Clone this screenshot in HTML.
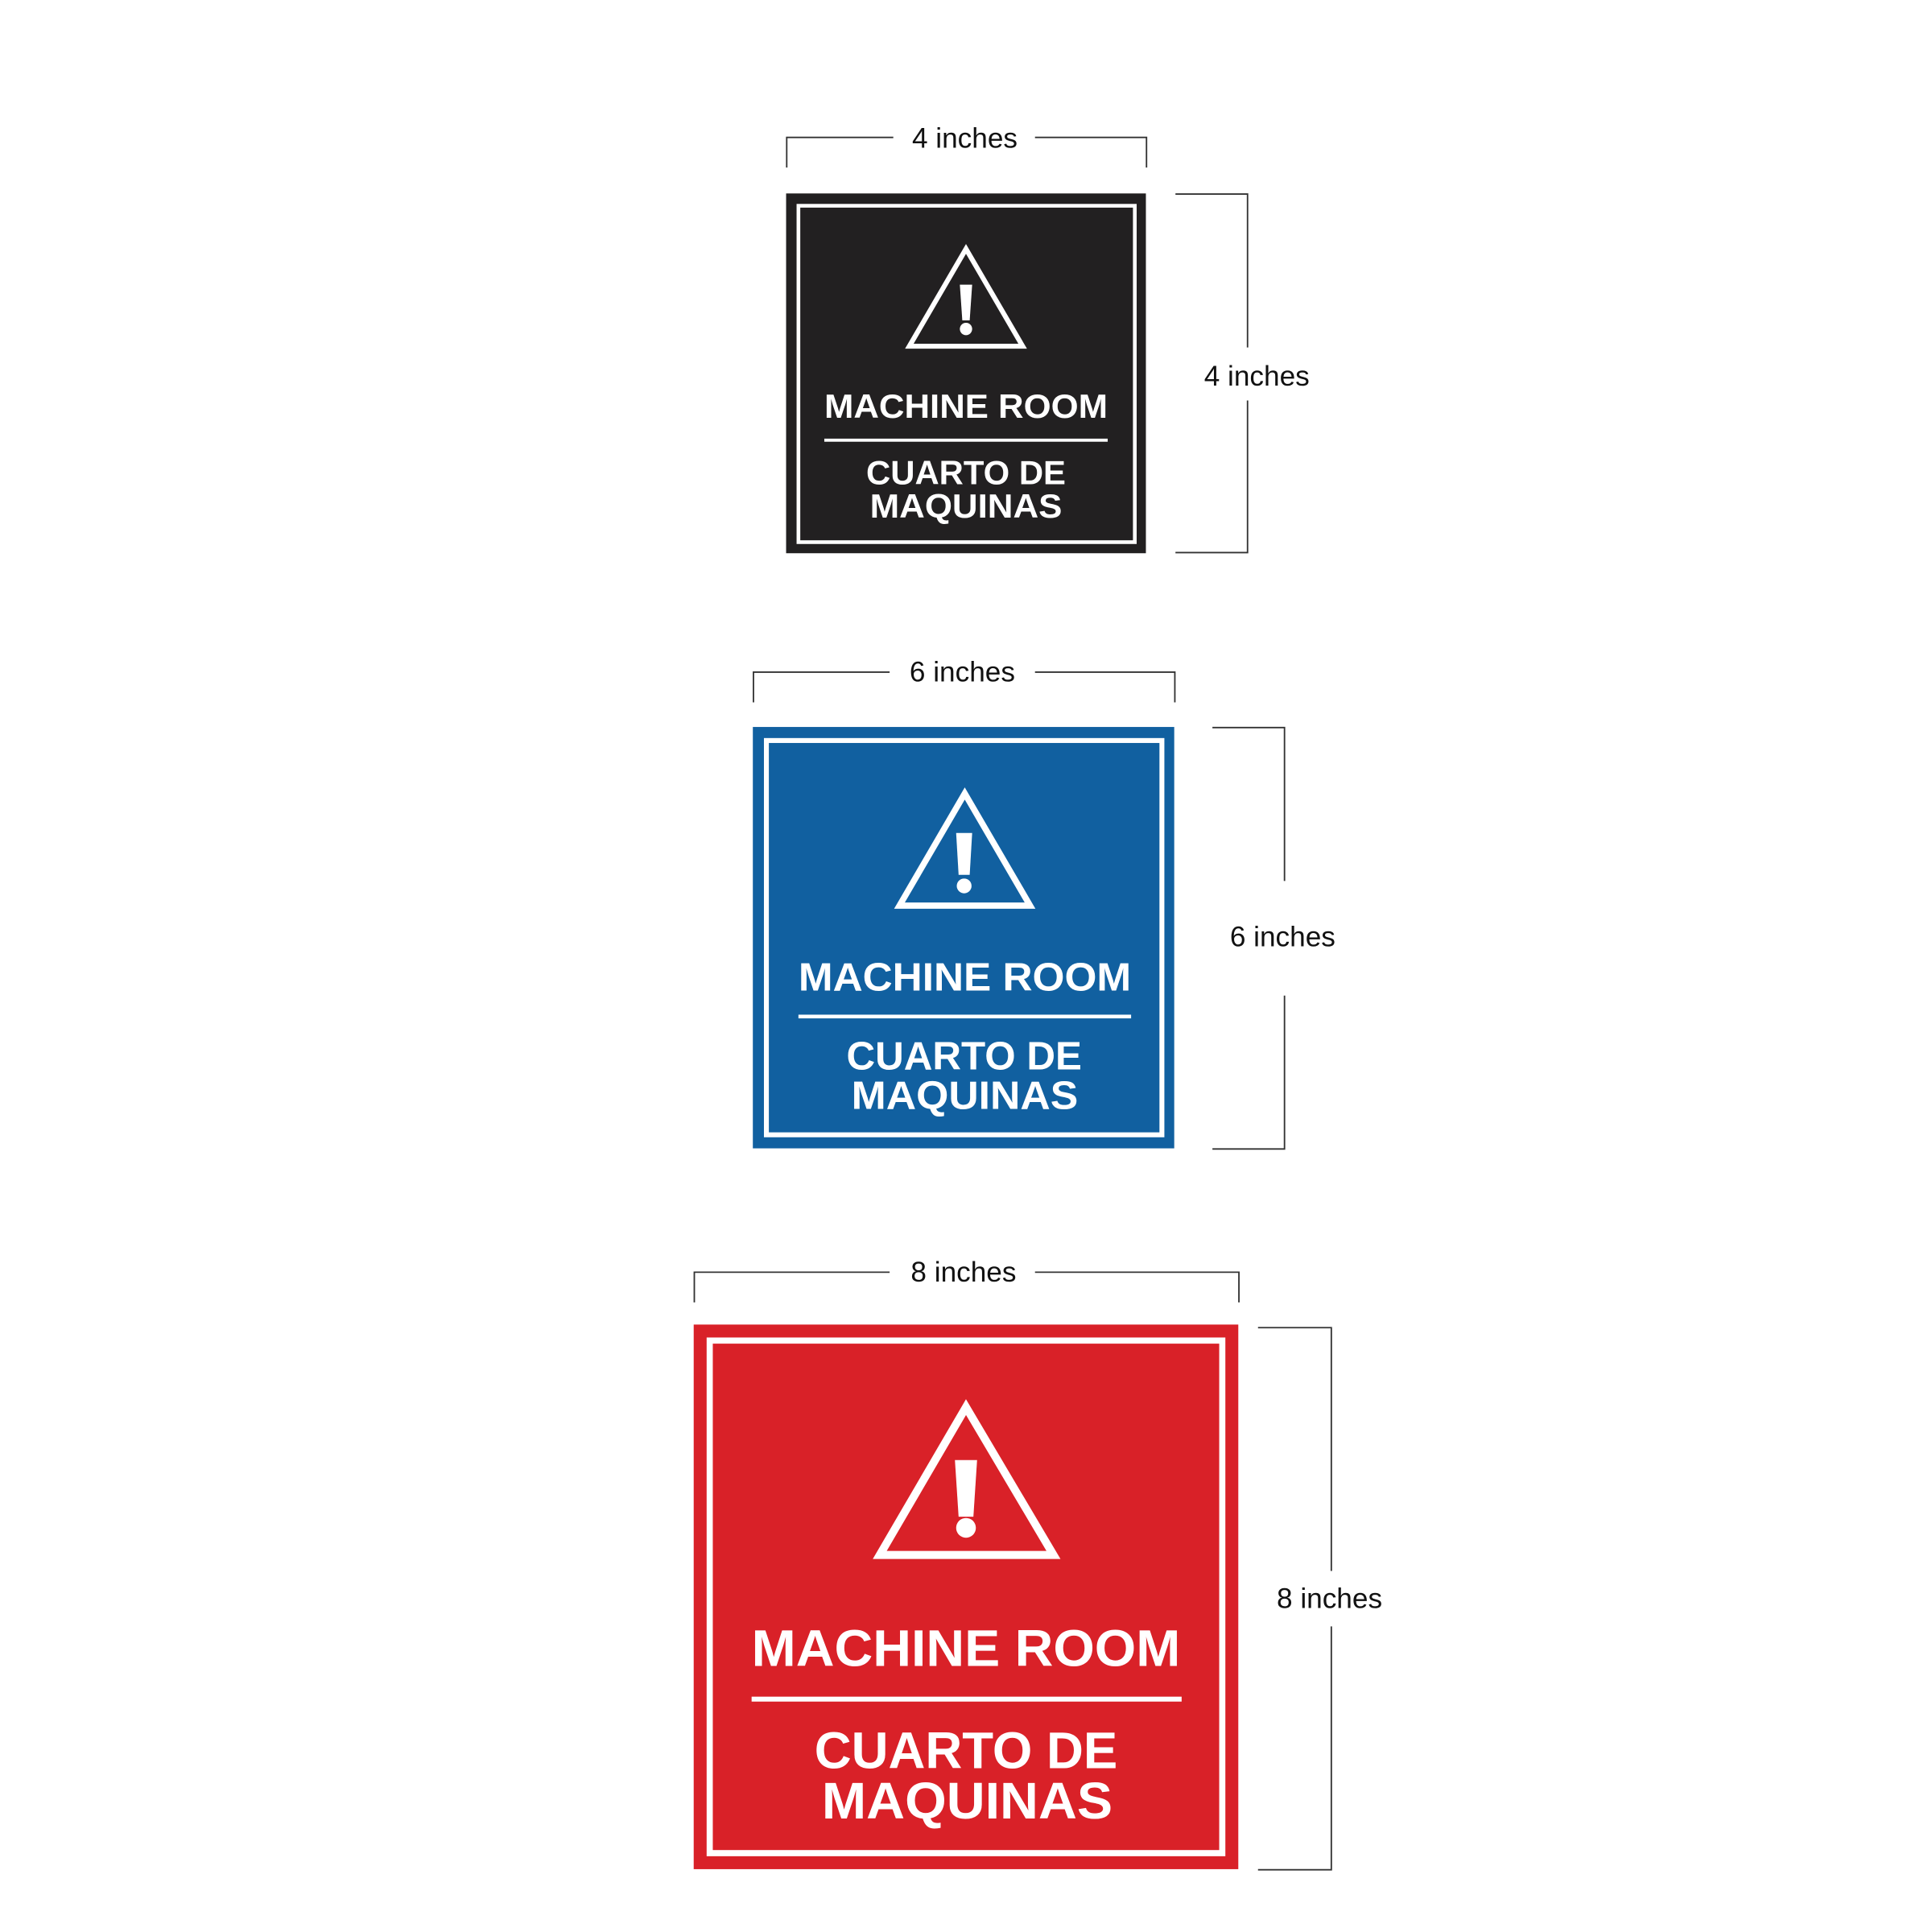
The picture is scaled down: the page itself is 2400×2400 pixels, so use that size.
<!DOCTYPE html>
<html><head><meta charset="utf-8"><style>
html,body{margin:0;padding:0;background:#fff;}
svg{display:block;}
.d{font-family:"Liberation Sans",sans-serif;font-size:23px;fill:#111;}
.s{font-family:"Liberation Sans",sans-serif;font-weight:bold;fill:#fff;}
</style></head><body>
<svg width="2400" height="2400" viewBox="0 0 1568 1568" xmlns="http://www.w3.org/2000/svg">
<rect width="1568" height="1568" fill="#fff"/>
<g stroke="#333" stroke-width="1.2" fill="none">
 <polyline points="638.5,136 638.5,111.5 725,111.5"/>
 <polyline points="840,111.5 930.5,111.5 930.5,136"/>
 <polyline points="954,157.5 1012.5,157.5 1012.5,282"/>
 <polyline points="1012.5,325 1012.5,448.5 954,448.5"/>
 <polyline points="611.5,570 611.5,545.5 722,545.5"/>
 <polyline points="840,545.5 953.5,545.5 953.5,570"/>
 <polyline points="984,590.5 1042.5,590.5 1042.5,715"/>
 <polyline points="1042.5,808 1042.5,932.5 984,932.5"/>
 <polyline points="563.5,1057 563.5,1032.5 722,1032.5"/>
 <polyline points="840,1032.5 1005.5,1032.5 1005.5,1057"/>
 <polyline points="1021,1077.5 1080.5,1077.5 1080.5,1275"/>
 <polyline points="1080.5,1320 1080.5,1517.5 1021,1517.5"/>
</g>
<text class="d" x="783" y="120" text-anchor="middle">4 inches</text>
<text class="d" x="1020" y="313" text-anchor="middle">4 inches</text>
<text class="d" x="781" y="553" text-anchor="middle">6 inches</text>
<text class="d" x="1041" y="768" text-anchor="middle">6 inches</text>
<text class="d" x="782" y="1040" text-anchor="middle">8 inches</text>
<text class="d" x="1079" y="1305" text-anchor="middle">8 inches</text>

<rect x="638" y="157" width="292" height="292" fill="#222021"/>
<rect x="648" y="167" width="273" height="273" fill="none" stroke="#fff" stroke-width="3"/>
<polygon points="784,202 738,281 830,281" fill="none" stroke="#fff" stroke-width="4"/>
<path d="M779,231 h10 l-2,29 h-6 z" fill="#fff"/>
<circle cx="784" cy="267" r="5" fill="#fff"/>
<text class="s" x="669" y="339" font-size="27" textLength="230" lengthAdjust="spacingAndGlyphs">MACHINE ROOM</text>
<rect x="669" y="356" width="230" height="2.5" fill="#fff"/>
<text class="s" x="703" y="393" font-size="27" textLength="162" lengthAdjust="spacingAndGlyphs">CUARTO DE</text>
<text class="s" x="706" y="420" font-size="27" textLength="156" lengthAdjust="spacingAndGlyphs">MAQUINAS</text>

<rect x="611" y="590" width="342" height="342" fill="#1160a0"/>
<rect x="622" y="601" width="321" height="320" fill="none" stroke="#fff" stroke-width="4"/>
<polygon points="783,644 730,735 836,735" fill="none" stroke="#fff" stroke-width="5"/>
<path d="M776,676 h13 l-2,34 h-9 z" fill="#fff"/>
<circle cx="782.5" cy="719" r="6" fill="#fff"/>
<text class="s" x="648" y="804" font-size="32" textLength="270" lengthAdjust="spacingAndGlyphs">MACHINE ROOM</text>
<rect x="648" y="823.5" width="270" height="3" fill="#fff"/>
<text class="s" x="687" y="868" font-size="32" textLength="191" lengthAdjust="spacingAndGlyphs">CUARTO DE</text>
<text class="s" x="691" y="900" font-size="32" textLength="184" lengthAdjust="spacingAndGlyphs">MAQUINAS</text>

<rect x="563" y="1075" width="442" height="442" fill="#d92128"/>
<rect x="576" y="1088" width="416" height="416" fill="none" stroke="#fff" stroke-width="5"/>
<polygon points="784,1142 714,1262 855,1262" fill="none" stroke="#fff" stroke-width="6.5"/>
<path d="M775,1185 h18 l-3,46 h-12 z" fill="#fff"/>
<circle cx="784" cy="1240" r="8" fill="#fff"/>
<text class="s" x="610" y="1352" font-size="42" textLength="348" lengthAdjust="spacingAndGlyphs">MACHINE ROOM</text>
<rect x="610" y="1377" width="349" height="4" fill="#fff"/>
<text class="s" x="661" y="1435" font-size="42" textLength="246" lengthAdjust="spacingAndGlyphs">CUARTO DE</text>
<text class="s" x="667" y="1476" font-size="42" textLength="236" lengthAdjust="spacingAndGlyphs">MAQUINAS</text>
</svg>
</body></html>
